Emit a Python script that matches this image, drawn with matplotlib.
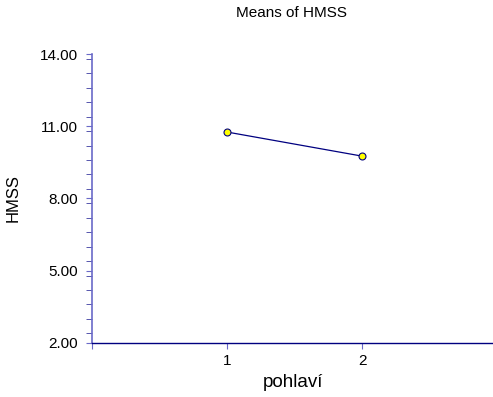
import matplotlib.pyplot as plt
from matplotlib.ticker import MultipleLocator

plt.rcParams["font.family"] = ["Liberation Sans", "DejaVu Sans"]

groups = [1, 2]
means = [10.76, 9.76]
ytick_vals = [2, 5, 8, 11, 14]
ytick_labels = ["2.00", "5.00", "8.00", "11.00", "14.00"]

fig = plt.figure(figsize=(4.93, 3.97), dpi=100)
ax = fig.add_axes([92 / 493, 1 - 343 / 397, 1 - 92 / 493, 289 / 397])

ax.plot(groups, means, color="#000080", linewidth=0.9, marker="o",
        markersize=5, markerfacecolor="#ffff00", markeredgecolor="#000080",
        markeredgewidth=0.8, zorder=3)

ax.set_xlim(0, 2.97)
ax.set_ylim(2, 14)
ax.set_xticks([0] + groups)
ax.set_xticklabels([""] + [str(g) for g in groups], fontsize=11)
ax.set_yticks(ytick_vals)
ax.set_yticklabels(ytick_labels, fontsize=11)
ax.yaxis.set_minor_locator(MultipleLocator(0.6))

for s in ["top", "right"]:
    ax.spines[s].set_visible(False)
ax.spines["left"].set_color("#6a6ac8")
ax.spines["left"].set_linewidth(1.2)
ax.spines["bottom"].set_color("#000080")
ax.spines["bottom"].set_linewidth(1.0)

ax.tick_params(axis="y", which="major", length=4, color="#6a6ac8", pad=6)
ax.tick_params(axis="y", which="minor", length=4, color="#3a3aa0")
ax.tick_params(axis="x", which="major", length=4, color="#6a6ac8", pad=4)

ax.set_xlabel("pohlaví", fontsize=13.5, labelpad=4)
ax.set_ylabel("HMSS", fontsize=12, labelpad=14)
fig.text(292 / 493, 1 - 13 / 397, "Means of HMSS", ha="center", va="center", fontsize=11)

fig.savefig("out.png", dpi=100)
